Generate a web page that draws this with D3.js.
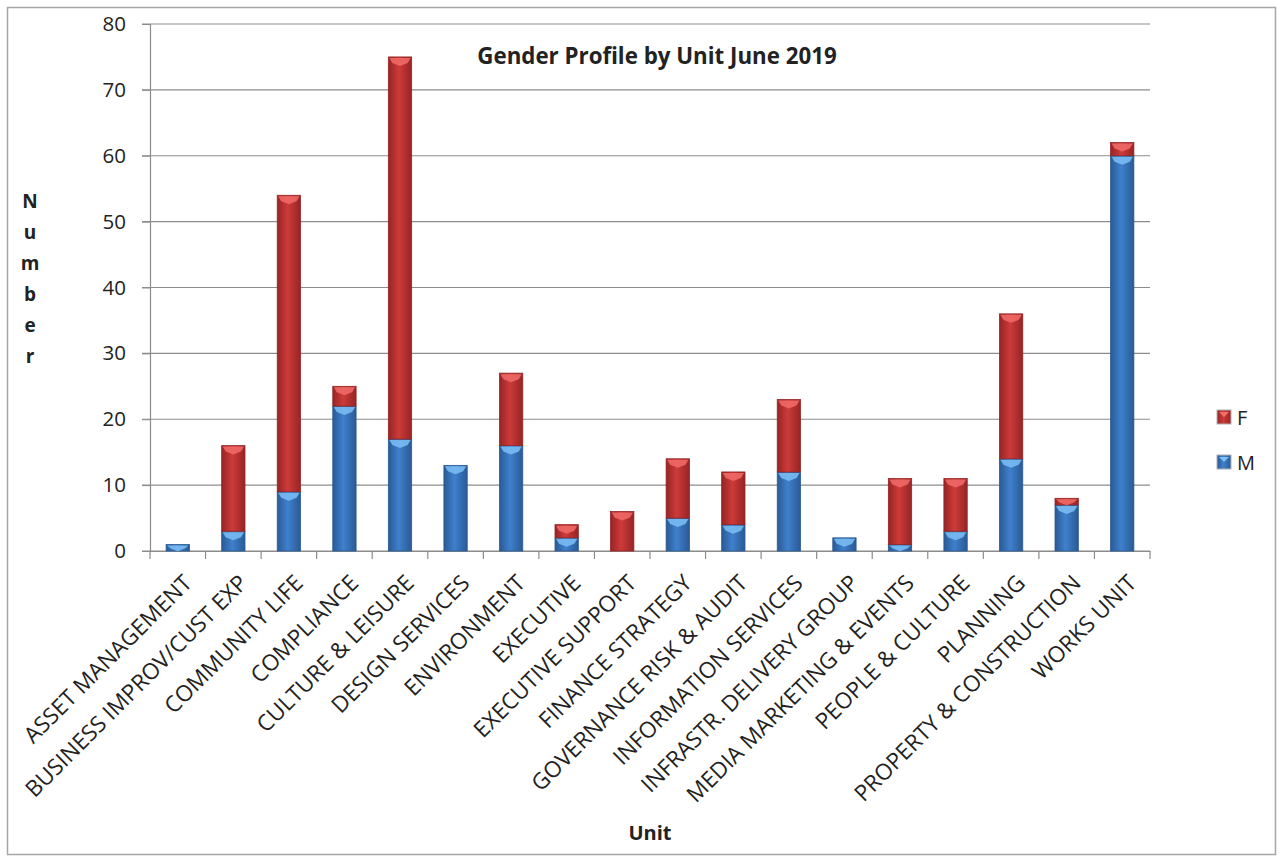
<!DOCTYPE html>
<html>
<head>
    <meta charset='utf-8'>
</head>
<style>
    body { margin: 0; background: #fff; }
    * { font-family: 'Open Sans', sans-serif; }
</style>
<body>
    <svg width="1284" height="863"></svg>
    <script src="https://d3js.org/d3.v7.min.js"></script>
    <script>
        // Units and head counts per gender
        var units = ["ASSET MANAGEMENT", "BUSINESS IMPROV/CUST EXP", "COMMUNITY LIFE", "COMPLIANCE",
            "CULTURE & LEISURE", "DESIGN SERVICES", "ENVIRONMENT", "EXECUTIVE", "EXECUTIVE SUPPORT",
            "FINANCE STRATEGY", "GOVERNANCE RISK & AUDIT", "INFORMATION SERVICES",
            "INFRASTR. DELIVERY GROUP", "MEDIA MARKETING & EVENTS", "PEOPLE & CULTURE", "PLANNING",
            "PROPERTY & CONSTRUCTION", "WORKS UNIT"];
        var male = [1, 3, 9, 22, 17, 13, 16, 2, 0, 5, 4, 12, 2, 1, 3, 14, 7, 60];
        var female = [0, 13, 45, 3, 58, 0, 11, 2, 6, 9, 8, 11, 0, 10, 8, 22, 1, 2];
        var yTicks = [0, 10, 20, 30, 40, 50, 60, 70, 80];
        var seriesKeys = ["M", "F"];

        var svg = d3.select('svg');
        var margin = { left: 150, right: 134, top: 24, bottom: 312 };
        var width = 1284, height = 863;

        // outer frame
        svg.append('rect')
            .attr('x', 7.5).attr('y', 7.5)
            .attr('width', 1268).attr('height', 847)
            .attr('fill', 'none')
            .attr('stroke', '#a6a6a6')
            .attr('stroke-width', 1.5);

        var table = units.map(function(u, i) {
            return { unit: u, M: male[i], F: female[i] };
        });
        var stacked = d3.stack().keys(seriesKeys)(table);

        var x = d3.scaleBand()
            .domain(units)
            .range([margin.left, width - margin.right])
            .paddingInner(0.58).paddingOuter(0.29);
        var y = d3.scaleLinear()
            .domain([0, 80])
            .range([height - margin.bottom, margin.top]);

        // gradients for the bevelled excel look
        var defs = svg.append('defs');
        var colors = {
            M: { edge: '#2a5a94', mid: '#3f80cd', light: '#7cc0f6' },
            F: { edge: '#962425', mid: '#cd3b39', light: '#f26c68' }
        };
        seriesKeys.forEach(function(k) {
            var g = defs.append('linearGradient').attr('id', 'grad' + k)
                .attr('x1', 0).attr('x2', 1).attr('y1', 0).attr('y2', 0);
            g.append('stop').attr('offset', '0%').attr('stop-color', colors[k].edge);
            g.append('stop').attr('offset', '45%').attr('stop-color', colors[k].mid);
            g.append('stop').attr('offset', '100%').attr('stop-color', colors[k].edge);
        });

        // gridlines
        svg.append('g')
            .selectAll('line')
            .data(yTicks)
            .enter().append('line')
            .attr('x1', margin.left - 8)
            .attr('x2', width - margin.right)
            .attr('y1', function(d) { return y(d); })
            .attr('y2', function(d) { return y(d); })
            .attr('stroke', '#8c8c8c')
            .attr('stroke-width', 1.2);

        // y axis
        var yAxis = svg.append('g')
            .attr('transform', 'translate(' + margin.left + ',0)')
            .call(d3.axisLeft(y).tickValues(yTicks).tickSize(8).tickPadding(16));
        yAxis.select('.domain').attr('stroke', '#8c8c8c').attr('stroke-width', 1.2);
        yAxis.selectAll('.tick line').attr('stroke', '#8c8c8c');
        yAxis.selectAll('text').attr('font-size', 20.5).attr('fill', '#222')
            .style('font-family', "'Open Sans', sans-serif");

        // x axis
        var xAxis = svg.append('g')
            .attr('transform', 'translate(0,' + y(0) + ')')
            .call(d3.axisBottom(x).tickSize(0).tickFormat(''));
        xAxis.select('.domain').attr('stroke', '#8c8c8c').attr('stroke-width', 1.2);
        var step = x.step();
        svg.append('g')
            .selectAll('line')
            .data(d3.range(units.length + 1))
            .enter().append('line')
            .attr('x1', function(i) { return margin.left + i * step; })
            .attr('x2', function(i) { return margin.left + i * step; })
            .attr('y1', y(0)).attr('y2', y(0) + 8)
            .attr('stroke', '#8c8c8c').attr('stroke-width', 1.2);

        // x labels rotated -45
        svg.append('g')
            .selectAll('text')
            .data(units)
            .enter().append('text')
            .attr('transform', function(d) {
                return 'translate(' + (x(d) + x.bandwidth() / 2 + 4) + ',' + (y(0) + 22) + ') rotate(-45)';
            })
            .attr('text-anchor', 'end')
            .attr('dy', '0.72em')
            .attr('font-size', 22.5)
            .attr('fill', '#222')
            .text(function(d) { return d; });

        // bars
        var bw = x.bandwidth();
        var layer = svg.append('g')
            .selectAll('g')
            .data(stacked)
            .enter().append('g');
        var seg = layer.selectAll('g')
            .data(function(s) {
                return s.map(function(d) { return { key: s.key, d: d }; })
                    .filter(function(o) { return o.d[1] - o.d[0] > 0; });
            })
            .enter().append('g');
        seg.append('rect')
            .attr('x', function(o) { return x(o.d.data.unit); })
            .attr('y', function(o) { return y(o.d[1]); })
            .attr('width', bw)
            .attr('height', function(o) { return y(o.d[0]) - y(o.d[1]); })
            .attr('fill', function(o) { return 'url(#grad' + o.key + ')'; })
            .attr('stroke', function(o) { return colors[o.key].edge; })
            .attr('stroke-width', 0.8);
        // top bevel
        seg.append('path')
            .attr('d', function(o) {
                var x0 = x(o.d.data.unit), y0 = y(o.d[1]);
                var h = Math.min(6, (y(o.d[0]) - y0) * 0.6);
                return 'M' + (x0 + 1) + ',' + (y0 + 1) + 'L' + (x0 + bw - 1) + ',' + (y0 + 1) +
                    'L' + (x0 + bw - 4) + ',' + (y0 + h) + 'L' + (x0 + bw / 2) + ',' + (y0 + h + 3) +
                    'L' + (x0 + 4) + ',' + (y0 + h) + 'Z';
            })
            .attr('fill', function(o) { return colors[o.key].light; })
            .attr('opacity', 0.85);

        // title
        svg.append('text')
            .attr('x', 657).attr('y', 64)
            .attr('text-anchor', 'middle')
            .attr('font-size', 22.3)
            .attr('font-weight', 'bold')
            .attr('fill', '#222')
            .text('Gender Profile by Unit June 2019');

        // y title - letters stacked
        svg.append('g')
            .selectAll('text')
            .data('Number'.split(''))
            .enter().append('text')
            .attr('x', 30)
            .attr('y', function(d, i) { return 208 + i * 31; })
            .attr('text-anchor', 'middle')
            .attr('font-size', 19)
            .attr('font-weight', 'bold')
            .attr('fill', '#222')
            .text(function(d) { return d; });

        // x title
        svg.append('text')
            .attr('x', 650).attr('y', 840)
            .attr('text-anchor', 'middle')
            .attr('font-size', 20)
            .attr('font-weight', 'bold')
            .attr('fill', '#222')
            .text('Unit');

        // legend
        var legend = svg.append('g')
            .selectAll('g')
            .data(["F", "M"])
            .enter().append('g')
            .attr('transform', function(d, i) { return 'translate(1217,' + (410 + i * 45) + ')'; });
        legend.append('rect')
            .attr('width', 14).attr('height', 14)
            .attr('fill', function(d) { return 'url(#grad' + d + ')'; })
            .attr('stroke', '#b0b0b0');
        legend.append('path')
            .attr('d', 'M2,2L12,2L7,7Z')
            .attr('fill', function(d) { return colors[d].light; });
        legend.append('text')
            .attr('x', 20).attr('y', 15)
            .attr('font-size', 20)
            .attr('fill', '#222')
            .text(function(d) { return d; });
    </script>
</body>
</html>
